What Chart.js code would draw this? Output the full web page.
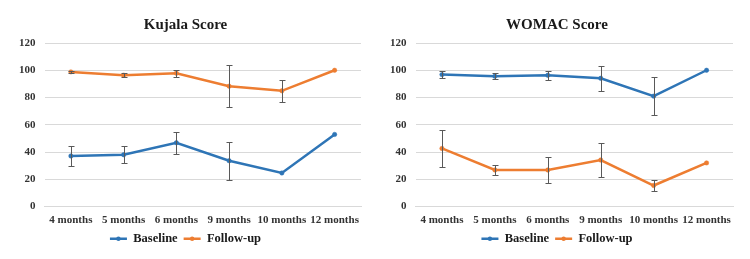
<!DOCTYPE html>
<html>
<head>
<meta charset="utf-8">
<script src="https://cdn.jsdelivr.net/npm/chart.js@4.4.1/dist/chart.umd.min.js"></script>
<style>
body { margin: 0; background: #fff; }
.wrap { display: flex; width: 750px; height: 259px; }
.box { width: 375px; height: 259px; position: relative; }
</style>
</head>
<body>
<div class="wrap">
  <div class="box"><canvas id="kujala"></canvas></div>
  <div class="box"><canvas id="womac"></canvas></div>
</div>
<script>
const months = ['4 months', '5 months', '6 months', '9 months', '10 months', '12 months'];

// Kujala
const kujalaBaseline = [37.1, 38.0, 46.8, 33.6, 24.6, 52.9];
const kujalaBaselineErr = [7.2, 6.2, 8.2, 14.0, 0, 0];
const kujalaFollowup = [98.8, 96.4, 97.8, 88.3, 84.9, 100];
const kujalaFollowupErr = [1.0, 1.7, 2.6, 15.4, 8.0, 0];

// WOMAC
const womacBaseline = [96.8, 95.6, 96.3, 94.1, 81.0, 100];
const womacBaselineErr = [2.5, 2.2, 3.3, 9.0, 14.2, 0];
const womacFollowup = [42.6, 26.8, 26.8, 34.1, 15.4, 32.0];
const womacFollowupErr = [13.8, 3.6, 9.2, 12.5, 3.7, 0];

const yTicks = [0, 20, 40, 60, 80, 100, 120];

const BLUE = '#2E75B6';
const ORANGE = '#ED7D31';
const serif = '"Liberation Serif", "Times New Roman", serif';

// draws error bars from the errors array of each dataset
const errorBars = {
  id: 'errorBars',
  afterDatasetsDraw(chart) {
    const ctx = chart.ctx;
    const y = chart.scales.y;
    ctx.save();
    ctx.strokeStyle = '#595959';
    ctx.lineWidth = 1;
    chart.data.datasets.forEach((ds, i) => {
      const meta = chart.getDatasetMeta(i);
      meta.data.forEach((pt, j) => {
        const e = ds.errors[j];
        if (!e) return;
        const top = Math.round(y.getPixelForValue(ds.data[j] + e)) + 0.5;
        const bot = Math.round(y.getPixelForValue(ds.data[j] - e)) + 0.5;
        const x = Math.round(pt.x) + 0.5;
        ctx.beginPath();
        ctx.moveTo(x, top); ctx.lineTo(x, bot);
        ctx.moveTo(x - 3, top); ctx.lineTo(x + 3, top);
        ctx.moveTo(x - 3, bot); ctx.lineTo(x + 3, bot);
        ctx.stroke();
      });
    });
    ctx.restore();
  }
};

// dot in the middle of each legend line marker
const legendDots = {
  id: 'legendDots',
  afterDraw(chart) {
    const lg = chart.legend;
    if (!lg || !lg.legendHitBoxes) return;
    const ctx = chart.ctx;
    const bw = lg.options.labels.pointStyleWidth;
    lg.legendHitBoxes.forEach((hb, i) => {
      ctx.save();
      ctx.fillStyle = chart.data.datasets[i].borderColor;
      ctx.beginPath();
      ctx.arc(hb.left + bw / 2, hb.top + hb.height / 2, 2.2, 0, Math.PI * 2);
      ctx.fill();
      ctx.restore();
    });
  }
};

const makeChart = (id, title, base, baseErr, follow, followErr, padL, padR) => {
  new Chart(document.getElementById(id), {
    type: 'line',
    data: {
      labels: months,
      datasets: [
        { label: 'Baseline', data: base, errors: baseErr, borderColor: BLUE, backgroundColor: BLUE,
          borderWidth: 2.5, pointRadius: 2.2, pointBorderWidth: 0.5, tension: 0 },
        { label: 'Follow-up', data: follow, errors: followErr, borderColor: ORANGE, backgroundColor: ORANGE,
          borderWidth: 2.5, pointRadius: 2.2, pointBorderWidth: 0.5, tension: 0 }
      ]
    },
    options: {
      responsive: true,
      maintainAspectRatio: false,
      animation: false,
      layout: { padding: { top: 16, left: padL, right: padR, bottom: 4 } },
      plugins: {
        title: { display: true, text: title, color: '#1a1a1a',
          font: { family: serif, size: 15, weight: 'bold' }, padding: { top: 0, bottom: 9 } },
        legend: { position: 'bottom',
          labels: { color: '#1a1a1a', usePointStyle: true, pointStyle: 'line', pointStyleWidth: 17, padding: 6,
            font: { family: serif, size: 12.5, weight: 'bold' },
            generateLabels: (chart) => Chart.defaults.plugins.legend.labels.generateLabels(chart)
              .map(l => ({ ...l, lineWidth: 2.5, strokeStyle: chart.data.datasets[l.datasetIndex].borderColor, pointStyle: 'line' }))
          } },
        tooltip: { enabled: false }
      },
      scales: {
        x: {
          offset: true,
          grid: { display: false, drawTicks: false },
          border: { color: '#d9d9d9' },
          afterFit: (s) => { s.height = 20; },
          ticks: { color: '#333', font: { family: serif, size: 11, weight: 'bold' }, maxRotation: 0, padding: 7 }
        },
        y: {
          min: 0, max: 120,
          afterBuildTicks: (s) => { s.ticks = yTicks.map(v => ({ value: v })); },
          grid: { color: '#d9d9d9', drawTicks: false },
          border: { display: false },
          ticks: { color: '#333', font: { family: serif, size: 11, weight: 'bold' }, padding: 9 }
        }
      }
    },
    plugins: [errorBars, legendDots]
  });
};

makeChart('kujala', 'Kujala Score', kujalaBaseline, kujalaBaselineErr, kujalaFollowup, kujalaFollowupErr, 10, 14);
makeChart('womac', 'WOMAC Score', womacBaseline, womacBaselineErr, womacFollowup, womacFollowupErr, 6, 17);
</script>
</body>
</html>
